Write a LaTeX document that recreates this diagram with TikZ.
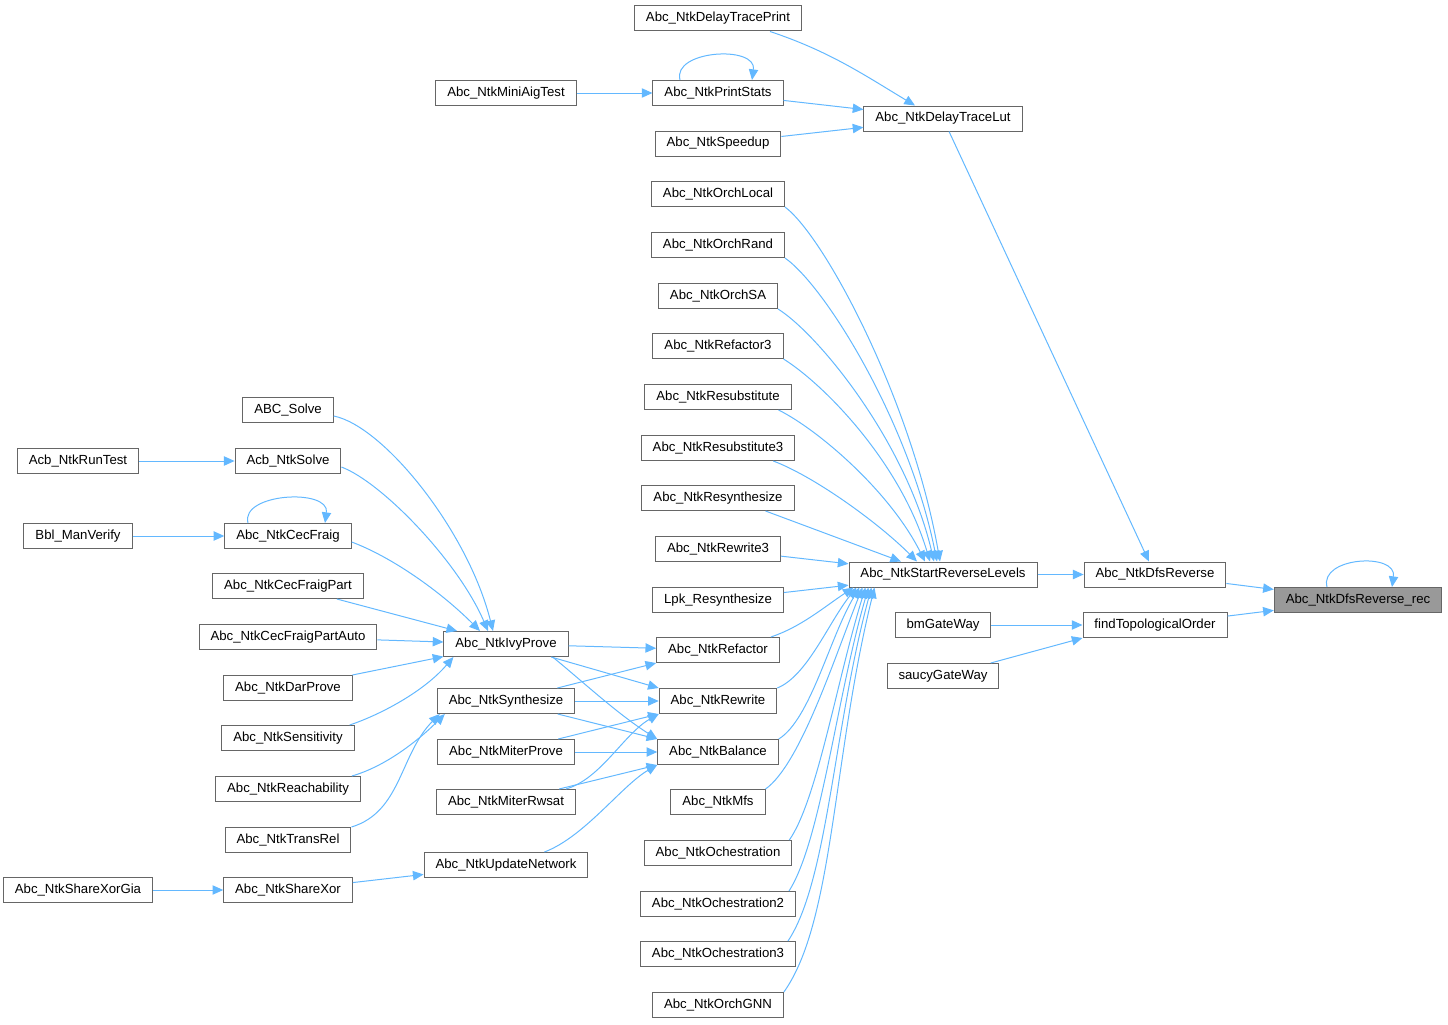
\documentclass[tikz,border=0pt]{standalone}
\usepackage{fontspec}
\setmainfont{Liberation Sans}
\usetikzlibrary{arrows.meta,calc}
\definecolor{callblue}{HTML}{63B8FF}
\definecolor{boxgray}{HTML}{666666}
\definecolor{rootgray}{HTML}{999999}

\begin{document}
\begin{tikzpicture}[x=0.75pt, y=-0.75pt, font=\fontsize{9.9}{12}\selectfont,
    fn/.style={draw=boxgray, line width=0.75pt, fill=white, minimum height=18.75pt, inner xsep=8.6pt, inner ysep=0pt},
    root/.style={fn, fill=rootgray},
    call/.style={callblue, line width=0.75pt, -{Triangle[length=8pt,width=7pt]}}]
  \useasboundingbox (0,0) rectangle (1448,1024);

  \node[fn] (dtprint) at (718,18.5) {Abc\_NtkDelayTracePrint};
  \node[fn] (miniaig) at (506,93) {Abc\_NtkMiniAigTest};
  \node[fn] (pstats) at (718,93) {Abc\_NtkPrintStats};
  \node[fn] (speedup) at (718,143.5) {Abc\_NtkSpeedup};
  \node[fn] (dtlut) at (943,118.5) {Abc\_NtkDelayTraceLut};

  \foreach \n/\y/\t in {orlocal/194/Abc\_NtkOrchLocal, orrand/245/Abc\_NtkOrchRand, orsa/296/Abc\_NtkOrchSA,
                        rf3/346/Abc\_NtkRefactor3, resub/397/Abc\_NtkResubstitute, resub3/448/Abc\_NtkResubstitute3,
                        resyn/498/Abc\_NtkResynthesize, rw3/549/Abc\_NtkRewrite3, lpk/600/Lpk\_Resynthesize,
                        refac/650/Abc\_NtkRefactor, rewr/701/Abc\_NtkRewrite, bal/752/Abc\_NtkBalance,
                        mfs/802/Abc\_NtkMfs, och/853/Abc\_NtkOchestration, och2/904/Abc\_NtkOchestration2,
                        och3/954/Abc\_NtkOchestration3, orgnn/1005/Abc\_NtkOrchGNN}
    \node[fn] (\n) at (718,\y) {\t};

  \node[fn] (srl) at (943,574.5) {Abc\_NtkStartReverseLevels};
  \node[fn] (bmgw) at (943,625) {bmGateWay};
  \node[fn] (saucy) at (943,676) {saucyGateWay};
  \node[fn] (dfsrev) at (1155,574.5) {Abc\_NtkDfsReverse};
  \node[fn] (topo) at (1155,625) {findTopologicalOrder};
  \node[root] (dfsrec) at (1358,600) {Abc\_NtkDfsReverse\_rec};

  \node[fn] (ivy) at (506,644) {Abc\_NtkIvyProve};
  \node[fn] (synth) at (506,701) {Abc\_NtkSynthesize};
  \node[fn] (mprove) at (506,752) {Abc\_NtkMiterProve};
  \node[fn] (mrwsat) at (506,802) {Abc\_NtkMiterRwsat};
  \node[fn] (updnet) at (506,865) {Abc\_NtkUpdateNetwork};

  \node[fn] (abcsolve) at (288,410) {ABC\_Solve};
  \node[fn] (acbsolve) at (288,461) {Acb\_NtkSolve};
  \node[fn] (acbrun) at (78,461) {Acb\_NtkRunTest};
  \node[fn] (cecfraig) at (288,536) {Abc\_NtkCecFraig};
  \node[fn] (bblver) at (78,536) {Bbl\_ManVerify};
  \node[fn] (cfpart) at (288,586) {Abc\_NtkCecFraigPart};
  \node[fn] (cfauto) at (288,637) {Abc\_NtkCecFraigPartAuto};
  \node[fn] (darprove) at (288,688) {Abc\_NtkDarProve};
  \node[fn] (sens) at (288,738) {Abc\_NtkSensitivity};
  \node[fn] (reach) at (288,789) {Abc\_NtkReachability};
  \node[fn] (transrel) at (288,840) {Abc\_NtkTransRel};
  \node[fn] (sharexor) at (288,890) {Abc\_NtkShareXor};
  \node[fn] (sxgia) at (78,890) {Abc\_NtkShareXorGia};

  \draw[call] ($(dtprint.south)+(52,0)$) .. controls +(60,20) and +(-50,-30) .. ($(dtlut.north)+(-28,0)$);
  \draw[call] (miniaig) -- (pstats);
  \draw[call] ($(pstats.north)+(-38,0)$) .. controls +(-8,-30) and +(5,-35) .. ($(pstats.north)+(34,0)$);
  \draw[call] (pstats) -- (dtlut);
  \draw[call] (speedup) -- (dtlut);
  \draw[call] (dtlut) -- (dfsrev);

  \foreach \n/\s/\d/\a/\b/\c/\e in {orlocal/0/-3/40/30/-28/-160, orrand/0/-6/40/28/-28/-140, orsa/0/-9/40/25/-28/-120,
                                    rf3/0/-13/40/25/-30/-100, resub/-13/-18/40/20/-35/-70, resub3/-22/-26/40/15/-40/-40}
    \draw[call] ($(\n.south east)+(\s,0)$) .. controls +(\a,\b) and +(\c,\e) .. ($(srl.north)+(\d,0)$);
  \draw[call] ($(resyn.south east)+(-29,0)$) -- ($(srl.north)+(-42,0)$);
  \draw[call] (rw3) -- (srl);
  \draw[call] (lpk) -- (srl);

  \foreach \n/\s/\d/\a/\b/\c/\e in {refac/-9/5/30/-10/-30/20, rewr/0/8/30/-12/-28/35, bal/0/11/32/-20/-30/50,
                                    mfs/0/14/35/-25/-28/70, och/-3/17/28/-40/-28/90, och2/-7/20/32/-50/-32/110,
                                    och3/-8/23/40/-60/-38/140, orgnn/0/26/50/-70/-42/170}
    \draw[call] ($(\n.north east)+(\s,0)$) .. controls +(\a,\b) and +(\c,\e) .. ($(srl.south west)+(\d,0)$);

  \draw[call] (srl) -- (dfsrev);
  \draw[call] (dfsrev) -- (dfsrec);
  \draw[call] (topo) -- (dfsrec);
  \draw[call] ($(dfsrec.north)+(-31,0)$) .. controls +(-8,-30) and +(5,-35) .. ($(dfsrec.north)+(34,0)$);
  \draw[call] (bmgw) -- (topo);
  \draw[call] (saucy) -- (topo.south west);

  \foreach \n/\d/\a/\b/\c/\e in {abcsolve/-13/50/10/-25/-100, acbsolve/-18/40/15/-30/-70, cecfraig/-26/40/15/-40/-40}
    \draw[call] ($(\n.east)+(0,6)$) .. controls +(\a,\b) and +(\c,\e) .. ($(ivy.north)+(\d,0)$);
  \draw[call] (cfpart) -- (ivy);
  \draw[call] (cfauto) -- (ivy);
  \draw[call] (darprove) -- (ivy);
  \draw[call] ($(sens.north east)+(-5,0)$) .. controls +(30,-10) and +(-30,35) .. ($(ivy.south west)+(10,0)$);
  \draw[call] ($(reach.north east)+(-9,0)$) .. controls +(35,-10) and +(-25,25) .. ($(synth.south west)+(8,0)$);
  \draw[call] (transrel.north east) .. controls +(50,-15) and +(-40,40) .. ($(synth.south west)+(3,0)$);
  \draw[call] (acbrun) -- (acbsolve);
  \draw[call] (bblver) -- (cecfraig);
  \draw[call] ($(cecfraig.north)+(-40,0)$) .. controls +(-8,-30) and +(5,-35) .. ($(cecfraig.north)+(37,0)$);
  \draw[call] (sxgia) -- (sharexor);
  \draw[call] (sharexor) -- (updnet);

  \draw[call] (ivy) -- (refac);
  \draw[call] (ivy) -- (rewr.north west);
  \draw[call] ($(ivy.south east)+(-16,0)$) .. controls +(25,20) and +(-40,-25) .. (bal.north west);
  \draw[call] (synth) -- (refac.south west);
  \draw[call] (synth) -- (rewr);
  \draw[call] (synth) -- (bal.north west);
  \draw[call] (mprove) -- (rewr.south west);
  \draw[call] (mprove) -- (bal);
  \draw[call] ($(mrwsat.north east)+(-10,0)$) .. controls +(35,-10) and +(-35,20) .. (rewr.south west);
  \draw[call] (mrwsat) -- (bal.south west);
  \draw[call] ($(updnet.north east)+(-44,0)$) .. controls +(40,-15) and +(-35,20) .. (bal.south west);
\end{tikzpicture}
\end{document}
